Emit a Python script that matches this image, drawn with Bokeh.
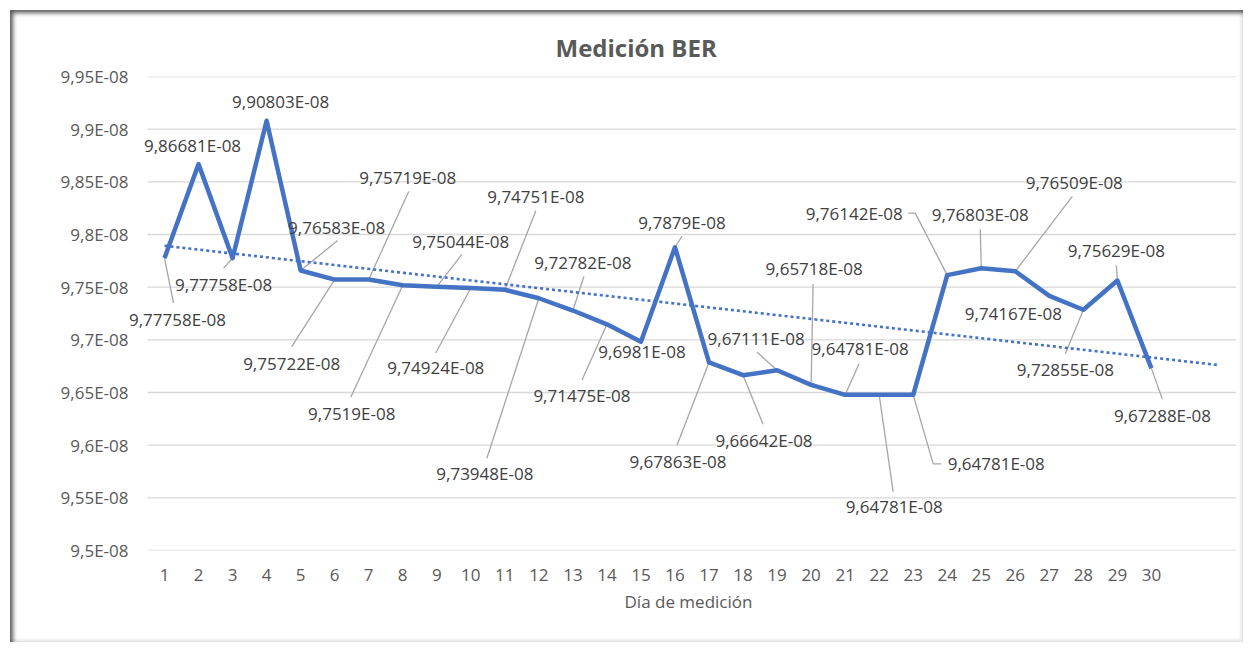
import numpy as np
from bokeh.plotting import figure
from bokeh.models import (ColumnDataSource, Range1d, FixedTicker, CustomJSTickFormatter,
                          LabelSet, Title)
from bokeh.core.properties import value
from bokeh.embed import file_html
from bokeh.resources import INLINE

# ---------------- data ----------------
days = list(range(1, 31))
ber = [9.77758e-08, 9.86681e-08, 9.77758e-08, 9.90803e-08, 9.76583e-08,
       9.75722e-08, 9.75719e-08, 9.7519e-08, 9.75044e-08, 9.74924e-08,
       9.74751e-08, 9.73948e-08, 9.72782e-08, 9.71475e-08, 9.6981e-08,
       9.7879e-08, 9.67863e-08, 9.66642e-08, 9.67111e-08, 9.65718e-08,
       9.64781e-08, 9.64781e-08, 9.64781e-08, 9.76142e-08, 9.76803e-08,
       9.76509e-08, 9.74167e-08, 9.72855e-08, 9.75629e-08, 9.67288e-08]
y_ticks = [9.5e-08, 9.55e-08, 9.6e-08, 9.65e-08, 9.7e-08, 9.75e-08,
           9.8e-08, 9.85e-08, 9.9e-08, 9.95e-08]
x_tick_labels = [str(d) for d in days]
title_text = "Medición BER"
x_title = "Día de medición"

# ------------- label placement (pixel offsets from each point) -------------
lab_dx = [13, -6, -9, 14, 36, -43, 39, -51, 24, -35, 31, -54, 10, -25, 1,
          7, -31, 21, -21, 3, 15, 15, 83, -93, -1, 59, -36, -18, -1, 11]
lab_dy = [61, -19, 26, -19, -43, 84, -102, 128, -45, 80, -93, 175, -48, 71, 10,
          -25, 99, 65, -32, -116, -46, 112, 69, -62, -54, -89, 18, 60, -30, 47]
leaders = {1: [(9, 45)], 3: [(-9, 10)], 5: [(37, -30)], 6: [(-43, 67)],
           7: [(40, -88)], 8: [(-52, 112)], 9: [(25, -32)], 10: [(-35, 65)],
           11: [(31, -79)], 12: [(-52, 160)], 13: [(11, -34)], 14: [(-25, 56)],
           16: [(7, -11)], 17: [(-32, 83)], 18: [(20, 49)], 19: [(-20, -18)],
           20: [(2, -101)], 21: [(14, -31)], 22: [(14, 97)],
           23: [(20, 69), (28, 69)], 24: [(-32, -62), (-39, -62)],
           25: [(-1, -39)], 26: [(57, -75)], 28: [(-18, 44)], 29: [(-1, -15)],
           30: [(11, 31)]}

# ------------- geometry -------------
X0, X1 = 0.5, 32.5          # category axis extent (plot area)
Y0, Y1 = y_ticks[0], y_ticks[-1]
FW, FH = 1089, 474          # plot-area size in px
PAD = 19                    # extra room on the left so outer labels aren't clipped
W, H = 1233, 632
ML, MT = 137 - PAD, 66
XPX = (X1 - X0) / FW
YPX = (Y1 - Y0) / FH

def fmt(v):
    s = f"{v * 1e8:.6g}".replace(".", ",")
    return s + "E-08"

labels = [fmt(v) for v in ber]
lx = [d + dx * XPX for d, dx in zip(days, lab_dx)]
ly = [v - dy * YPX for v, dy in zip(ber, lab_dy)]

lead_xs, lead_ys = [], []
for i, pts in leaders.items():
    d, v = days[i - 1], ber[i - 1]
    xs = [d] + [d + px * XPX for px, _ in pts]
    ys = [v] + [v - py * YPX for _, py in pts]
    lead_xs.append(xs)
    lead_ys.append(ys)

# linear trend line (Excel linear trendline, forecast forward 2 periods)
slope, icpt = np.polyfit(days, ber, 1)
tx = [1, 32]
ty = [icpt + slope * t for t in tx]

# ------------- figure -------------
p = figure(width=W, height=H, output_backend="svg", toolbar_location=None,
           x_range=Range1d(X0 - PAD * XPX, X1), y_range=Range1d(Y0, Y1),
           min_border_left=ML, min_border_top=MT,
           min_border_right=W - ML - FW - PAD, min_border_bottom=H - MT - FH,
           border_fill_color=None, background_fill_color="white",
           outline_line_color=None,
           styles={"background-color": "white",
                   "margin-left": "10px", "margin-top": "10px",
                   "box-shadow": "inset 3px 3px 4px rgba(0,0,0,0.65), inset -3px -3px 2px rgba(0,0,0,0.07)"})

p.add_layout(Title(text=title_text, align="left", offset=408 + PAD, standoff=26,
                   text_font="Open Sans", text_font_size="24px",
                   text_font_style="bold", text_color="#595959"), "above")

# horizontal gridlines across the plot area only
p.xgrid.grid_line_color = None
p.ygrid.grid_line_color = None
p.segment(x0=[X0] * len(y_ticks), x1=[X1] * len(y_ticks), y0=y_ticks, y1=y_ticks,
          line_color="#d9d9d9", line_width=1.3)

p.yaxis.ticker = FixedTicker(ticks=y_ticks)
p.yaxis.formatter = CustomJSTickFormatter(
    code="const v = Math.round(tick * 1e10) / 100; return String(v).replace('.', ',') + 'E-08';")
p.yaxis.axis_line_color = None
p.yaxis.major_tick_line_color = None
p.yaxis.minor_tick_line_color = None
p.yaxis.major_tick_in = 0
p.yaxis.major_tick_out = 0
p.yaxis.major_label_standoff = 0
p.yaxis.major_label_text_font = "Open Sans"
p.yaxis.major_label_text_font_size = "17px"
p.yaxis.major_label_text_color = "#595959"

p.xaxis.ticker = FixedTicker(ticks=days)
p.xaxis.major_label_overrides = {d: s for d, s in zip(days, x_tick_labels)}
p.xaxis.axis_line_color = None
p.xaxis.major_tick_line_color = None
p.xaxis.minor_tick_line_color = None
p.xaxis.major_label_standoff = 12
p.xaxis.major_label_text_font = "Open Sans"
p.xaxis.major_label_text_font_size = "17px"
p.xaxis.major_label_text_color = "#595959"

# x-axis title, centred under the category area (not the padded frame)
p.add_layout(Title(text=x_title, align="left", offset=477 + PAD, standoff=9,
                   text_font="Open Sans", text_font_size="17px",
                   text_font_style="normal", text_color="#595959"), "below")

# leader lines
p.multi_line(xs=lead_xs, ys=lead_ys, line_color="#a6a6a6", line_width=1.3)

# trend line
p.line(tx, ty, line_color="#4472C4", line_width=2.6, line_dash="3 3")

# series
p.line(days, ber, line_color="#4472C4", line_width=4.5, line_join="round")

src = ColumnDataSource(dict(x=lx, y=ly, t=labels))
p.add_layout(LabelSet(x="x", y="y", text="t", source=src, text_align="center",
                      text_baseline="middle", text_font=value("Open Sans"),
                      text_font_size="17px", text_color="#404040"))

open("out.html", "w").write(file_html(p, INLINE))
